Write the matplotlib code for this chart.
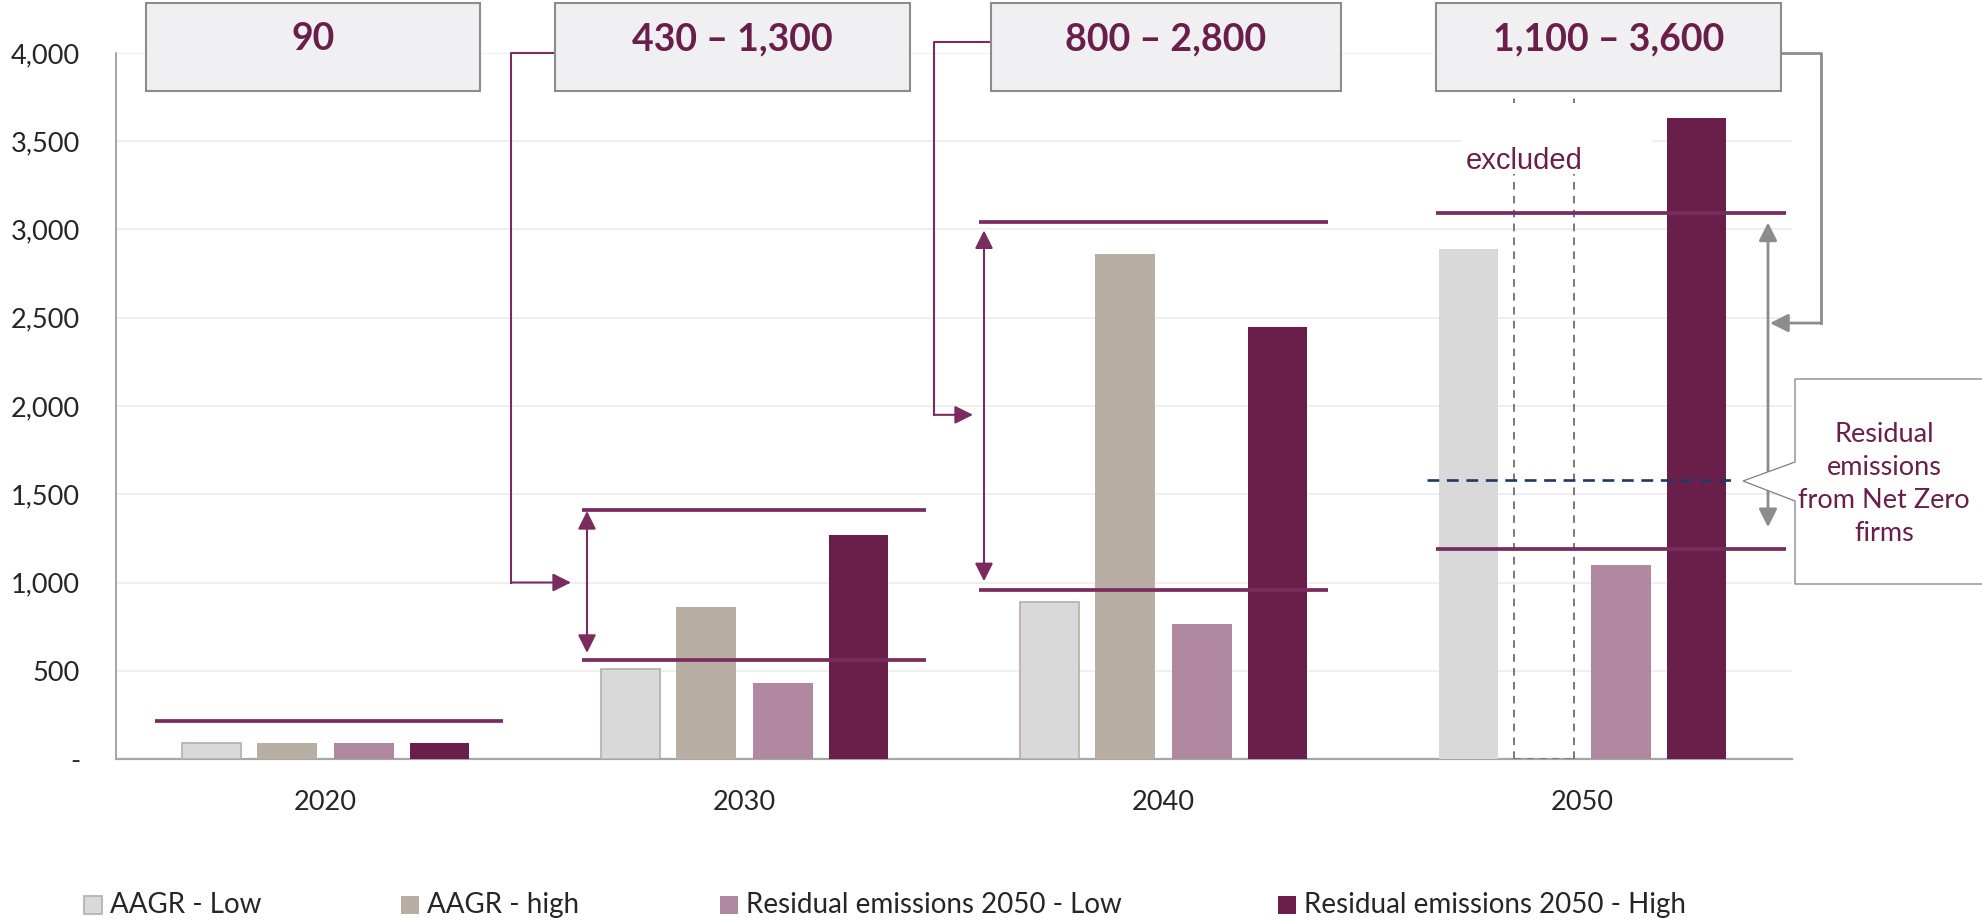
import numpy as np
import matplotlib
matplotlib.use("Agg")
import matplotlib.pyplot as plt
from matplotlib.patches import Rectangle, Polygon

plt.rcParams["font.family"] = ["Lato", "DejaVu Sans"]
plt.rcParams["lines.scale_dashes"] = False

# ---- data -------------------------------------------------------------
years = ["2020", "2030", "2040", "2050"]
series_names = ["AAGR - Low", "AAGR - high",
                "Residual emissions 2050 - Low", "Residual emissions 2050 - High"]
aagr_low = [90, 510, 890, 2890]
aagr_high = [90, 860, 2860, np.nan]          # 2050 value excluded
res_low = [90, 430, 765, 1100]
res_high = [90, 1270, 2450, 3630]
range_low = [np.nan, 560, 956, 1190]
range_high = [215, 1413, 3040, 3093]
range_labels = ["90", "430 – 1,300", "800 – 2,800", "1,100 – 3,600"]
net_zero_level = 1580
yticks = [0, 500, 1000, 1500, 2000, 2500, 3000, 3500, 4000]

# ---- style --------------------------------------------------------------
C_LOW = "#D9D9D9"
C_LOW_EDGE = "#BDB2A8"
C_HIGH = "#B8AEA4"
C_RES_LOW = "#B0889F"
C_RES_HIGH = "#6A1F4B"
C_RANGE = "#7B2C5E"
C_GREY = "#8C8C8C"
C_NAVY = "#1F3864"
C_TEXT = "#262626"

W, H = 1982, 922
AX_L, AX_R, AX_B, AX_T = 116, 1792, 759, 53
fig = plt.figure(figsize=(W / 100, H / 100), dpi=100)
ax = fig.add_axes([AX_L / W, 1 - AX_B / H, (AX_R - AX_L) / W, (AX_B - AX_T) / H])
ax.set_xlim(-0.5, 3.5)
ax.set_ylim(0, 4000)


def X(px):
    """pixel column -> category axis units"""
    return -0.5 + 4 * (px - AX_L) / (AX_R - AX_L)


def V(py):
    """pixel row -> value axis units"""
    return 4000 * (AX_B - py) / (AX_B - AX_T)


# ---- axes cosmetics -----------------------------------------------------
for s in ["top", "right"]:
    ax.spines[s].set_visible(False)
ax.spines["left"].set_color("#8C8C8C")
ax.spines["left"].set_linewidth(1.1)
ax.spines["bottom"].set_color("#A6A6A6")
ax.spines["bottom"].set_linewidth(1.6)
ax.set_yticks(yticks)
ax.set_yticklabels(["-" if v == 0 else f"{v:,}" for v in yticks])
ax.set_xticks(range(len(years)))
ax.set_xticklabels(years)
ax.tick_params(axis="y", length=0, pad=26, labelsize=19.5, labelcolor=C_TEXT)
ax.tick_params(axis="x", length=0, pad=22, labelsize=19.5, labelcolor=C_TEXT)
for v in yticks[1:]:
    ax.axhline(v, color="#EBEBEB", lw=1.1, zorder=0)

# ---- bars ---------------------------------------------------------------
x = np.arange(len(years))
bw = 0.143
offs = [-0.272, -0.091, 0.091, 0.272]
ax.bar(x + offs[0], aagr_low, bw, color=C_LOW,
       edgecolor=[C_LOW_EDGE] * 3 + ["none"], linewidth=1.3, zorder=3)
ax.bar(x + offs[1], aagr_high, bw, color=C_HIGH, zorder=3)
ax.bar(x + offs[2], res_low, bw, color=C_RES_LOW, zorder=3)
ax.bar(x + offs[3], res_high, bw, color=C_RES_HIGH, zorder=3)

# excluded slot for 2050 AAGR - high
slot_c = x[3] + offs[1]
ax.vlines([slot_c - bw / 2, slot_c + bw / 2], 0, V(96), colors="#6E6E6E",
          linestyles=(0, (5.5, 4.5)), lw=1.3, zorder=4)
ax.hlines(0, slot_c - bw / 2, slot_c + bw / 2, colors="#7F7F7F",
          linestyles=(0, (5, 4)), lw=2.2, zorder=4)

# ---- range lines ----------------------------------------------------------
spans = [(155, 503), (582, 926), (979, 1328), (1436, 1786)]
for (a, b), lo, hi in zip(spans, range_low, range_high):
    for v in (lo, hi):
        if not np.isnan(v):
            ax.hlines(v, X(a), X(b), color=C_RANGE, lw=2.7, zorder=5)

ax.hlines(net_zero_level, X(1427), X(1737), colors=C_NAVY,
          linestyles=(0, (8.5, 5.5)), lw=1.9, zorder=6)


def head(tip, tail, color, lw):
    ax.annotate("", xy=tip, xytext=tail, annotation_clip=False,
                arrowprops=dict(arrowstyle="-|>,head_length=1.1,head_width=0.55",
                                mutation_scale=10, color=color, lw=lw,
                                shrinkA=0, shrinkB=0), zorder=6)


def double(xp, lo, hi, color, lw):
    ax.annotate("", xy=(X(xp), hi), xytext=(X(xp), lo), annotation_clip=False,
                arrowprops=dict(arrowstyle="<|-|>,head_length=1.1,head_width=0.55",
                                mutation_scale=10, color=color, lw=lw,
                                shrinkA=0, shrinkB=0), zorder=6)


# double arrows showing each range
double(587, 601, 1405, C_RANGE, 1.5)
double(984, 1007, 2995, C_RANGE, 1.5)
double(1768, 1313, 3040, C_GREY, 2.0)

# elbow connectors from the range boxes
ax.plot([X(555), X(511), X(511)], [4000, 4000, 1000], color=C_RANGE, lw=1.5,
        clip_on=False, zorder=6)
head((X(571), 1000), (X(511), 1000), C_RANGE, 1.5)
ax.plot([X(991), X(934), X(934)], [V(42), V(42), 1950], color=C_RANGE, lw=1.5,
        clip_on=False, zorder=6)
head((X(973), 1950), (X(934), 1950), C_RANGE, 1.5)
ax.plot([X(1781), X(1821), X(1821)], [4000, 4000, 2470], color=C_GREY, lw=2.0,
        clip_on=False, zorder=6)
head((X(1770), 2470), (X(1821), 2470), C_GREY, 2.0)

# ---- range boxes ----------------------------------------------------------
boxes = [(146, 480), (555, 910), (991, 1341), (1436, 1781)]
for (a, b), lab in zip(boxes, range_labels):
    ax.add_patch(Rectangle((X(a), V(91)), X(b) - X(a), V(3) - V(91),
                           facecolor="#F0F0F2", edgecolor="#8C8C8C", lw=1.5,
                           clip_on=False, zorder=8))
    ax.text((X(a) + X(b)) / 2, V(39), lab, ha="center", va="center",
            fontsize=27, fontweight="bold", color=C_RES_HIGH, zorder=9,
            clip_on=False)

# ---- "excluded" label -----------------------------------------------------
ax.add_patch(Rectangle((X(1462), V(174)), X(1652) - X(1462), V(103) - V(174),
                       facecolor="white", edgecolor="none", zorder=5))
ax.text(X(1466), V(161), "excluded", family=["Liberation Sans", "DejaVu Sans"],
        fontsize=21, color=C_RES_HIGH, va="center", ha="left", zorder=7)

# ---- callout --------------------------------------------------------------
pts = [(1795, 379), (1995, 379), (1995, 584), (1795, 584),
       (1795, 501), (1743, 481), (1795, 462)]
ax.add_patch(Polygon([(X(p), V(q)) for p, q in pts], closed=True,
                     facecolor="white", edgecolor="#7F7F7F", lw=0.9,
                     clip_on=False, zorder=7))
ax.text(X(1884), V(484), "Residual\nemissions\nfrom Net Zero\nfirms",
        ha="center", va="center", fontsize=19.5, color=C_RES_HIGH,
        linespacing=1.4, zorder=8, clip_on=False)

# ---- legend ---------------------------------------------------------------
leg_colors = [C_LOW, C_HIGH, C_RES_LOW, C_RES_HIGH]
leg_edges = [C_LOW_EDGE, "none", "none", "none"]
leg_x = [84, 401, 720, 1278]
for name, c, e, lx in zip(series_names, leg_colors, leg_edges, leg_x):
    fig.patches.append(Rectangle((lx / W, 1 - 914 / H), 18 / W, 18 / H,
                                 transform=fig.transFigure, facecolor=c,
                                 edgecolor=e, lw=1.3))
    fig.text((lx + 26) / W, 1 - 905 / H, name, ha="left", va="center",
             fontsize=20, color=C_TEXT)

fig.savefig("out.png", dpi=100, facecolor="white")
